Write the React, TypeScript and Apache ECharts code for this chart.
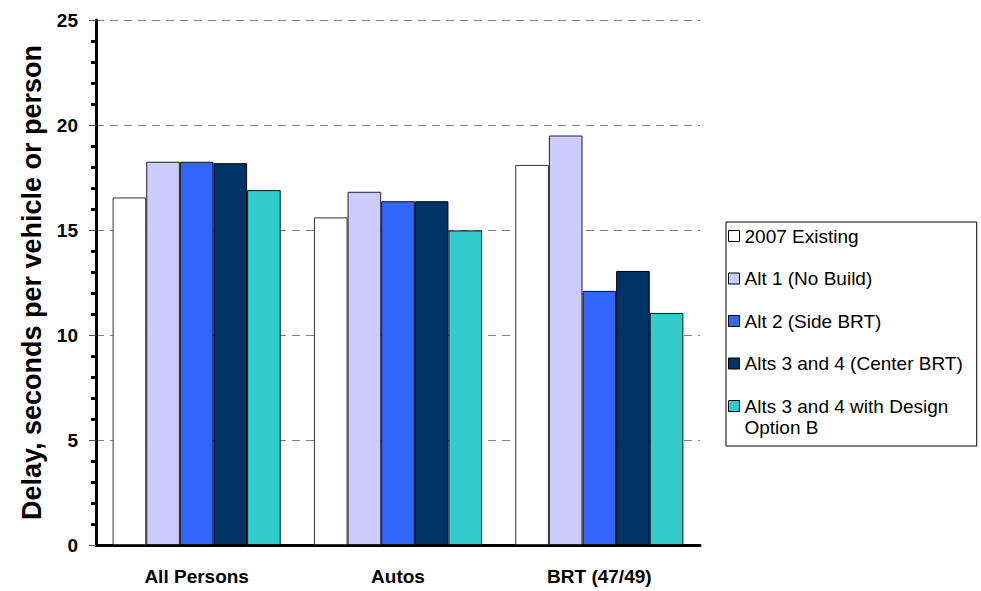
import React, { useEffect, useRef } from "react";
import * as echarts from "echarts";

const categories = ["All Persons", "Autos", "BRT (47/49)"];
const seriesNames = [
  "2007 Existing",
  "Alt 1 (No Build)",
  "Alt 2 (Side BRT)",
  "Alts 3 and 4 (Center BRT)",
  "Alts 3 and 4 with Design Option B",
];
const existing2007 = [16.55, 15.6, 18.1];
const alt1NoBuild = [18.25, 16.82, 19.5];
const alt2SideBRT = [18.25, 16.37, 12.1];
const alts34Center = [18.18, 16.37, 13.05];
const alts34DesignB = [16.9, 14.98, 11.05];
const seriesValues = [existing2007, alt1NoBuild, alt2SideBRT, alts34Center, alts34DesignB];
const colors = ["#FFFFFF", "#CCCCFF", "#3366FF", "#003366", "#33CCCC"];
const borderColors = ["#333333", "#222222", "#111111", "#000000", "#111111"];
const yTicks = [0, 5, 10, 15, 20, 25];

const FONT = "Arial, 'Liberation Sans', Helvetica, sans-serif";

export default function App() {
  const ref = useRef<HTMLDivElement>(null);
  useEffect(() => {
    if (!ref.current) return;
    const chart = echarts.init(ref.current, undefined, { renderer: "svg" });
    const legendText = { fontSize: 19, lineHeight: 21, color: "#000", fontFamily: FONT };
    const option: any = {
      animation: false,
      backgroundColor: "#FFFFFF",
      textStyle: { fontFamily: FONT },
      grid: { left: 96, right: 281, top: 20, bottom: 46, containLabel: false },
      legend: [
        {
          orient: "vertical",
          left: 726,
          top: 222,
          padding: [3.5, 14, 72, 2],
          borderColor: "#000",
          borderWidth: 1,
          itemGap: 21.5,
          itemWidth: 11,
          itemHeight: 11,
          icon: "rect",
          textStyle: legendText,
          data: seriesNames.slice(0, 4),
          itemStyle: { borderColor: "#000", borderWidth: 1 },
        },
        {
          orient: "vertical",
          left: 728,
          top: 395.5,
          padding: 0,
          itemWidth: 11,
          itemHeight: 32,
          symbolKeepAspect: false,
          icon: "path://M0,0H11V11H0Z M0,32",
          textStyle: legendText,
          data: seriesNames.slice(4),
          formatter: () => "Alts 3 and 4 with Design\nOption B",
          itemStyle: { borderColor: "#000", borderWidth: 1 },
        },
      ],
      xAxis: {
        type: "category",
        data: categories,
        axisLine: { lineStyle: { color: "#000", width: 3 } },
        axisTick: { show: false },
        axisLabel: { fontSize: 19, fontWeight: "bold", color: "#000", margin: 22, fontFamily: FONT },
      },
      yAxis: {
        type: "value",
        min: yTicks[0],
        max: yTicks[yTicks.length - 1],
        interval: 5,
        name: "Delay, seconds per vehicle or person",
        nameLocation: "middle",
        nameGap: 50,
        nameTextStyle: { fontSize: 27, fontWeight: "bold", color: "#000", fontFamily: FONT },
        axisLine: { show: true, lineStyle: { color: "#000", width: 3 } },
        axisTick: { show: true, length: 7, lineStyle: { color: "#555", width: 1 } },
        minorTick: { show: true, splitNumber: 5, length: 5, lineStyle: { color: "#000", width: 3 } },
        axisLabel: { fontSize: 19, fontWeight: "bold", color: "#000", margin: 18, fontFamily: FONT },
        splitLine: { show: true, lineStyle: { color: "#808080", type: [8, 6], width: 1 } },
      },
      series: seriesNames.map((n, i) => ({
        name: n,
        type: "bar",
        data: seriesValues[i],
        barGap: "0%",
        barCategoryGap: "16.5%",
        itemStyle: { color: colors[i], borderColor: borderColors[i], borderWidth: 1 },
      })),
    };
    chart.setOption(option);
    return () => chart.dispose();
  }, []);
  return (
    <div
      ref={ref}
      style={{ position: "fixed", left: 0, top: 0, width: 981, height: 591, background: "#fff" }}
    />
  );
}
